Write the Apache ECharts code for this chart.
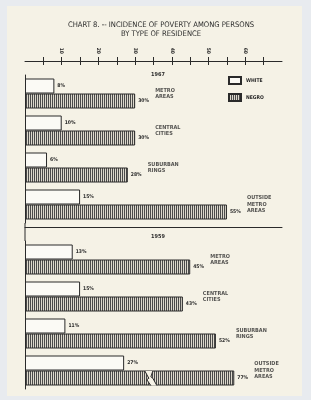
<!DOCTYPE html>
<html>
<head>
<meta charset="utf-8">
<script src="https://cdn.jsdelivr.net/npm/echarts@6/dist/echarts.min.js"></script>
<style>
  html, body { margin: 0; padding: 0; background: #e8ebef; }
  #chart { width: 311px; height: 400px; }
</style>
</head>
<body>
<div id="chart"></div>
<script>
// data (percent in poverty)
var categories = ['METRO\nAREAS', 'CENTRAL\nCITIES', 'SUBURBAN\nRINGS', 'OUTSIDE\nMETRO\nAREAS'];
var years = ['1967', '1959'];
var white1967 = [8, 10, 6, 15];
var negro1967 = [30, 30, 28, 55];
var white1959 = [13, 15, 11, 27];
var negro1959 = [45, 43, 52, 77];
var tickValues = [5, 10, 15, 20, 25, 30, 35, 40, 45, 50, 55, 60, 65];
var labelValues = [10, 20, 30, 40, 50, 60];
var axisMax = 70;
var breakCut = 20;   // how much of a too long bar is left out at the break
var breakAt = 34;    // where the break sits on the axis

var ink = '#2a2a2a';
var paper = '#f5f2e6';
var font = "'Liberation Sans Narrow', 'DejaVu Sans Condensed', 'Liberation Sans', sans-serif";

var plotLeft = 25, plotRight = 29;
var grid1Top = 75, grid2Top = 241, gridH = 148;

// vertical stripes for the negro bars
var hatch = document.createElement('canvas');
hatch.width = 2; hatch.height = 4;
var hctx = hatch.getContext('2d');
hctx.fillStyle = '#dcd8cc'; hctx.fillRect(0, 0, 2, 4);
hctx.fillStyle = '#4a4a4a'; hctx.fillRect(0, 0, 1, 4);

var whiteStyle = { color: '#fbfaf5', borderColor: ink, borderWidth: 1 };
var negroStyle = { color: { image: hatch, repeat: 'repeat' }, borderColor: ink, borderWidth: 1 };
var valueLabel = {
    show: true, position: 'right', distance: 3,
    formatter: '{c}%', fontSize: 5, fontWeight: 'bold', color: ink, fontFamily: font
};

function shown(arr) {
    return arr.map(function (v) {
        return v > axisMax ? { value: v - breakCut, label: { formatter: v + '%' } } : v;
    });
}
function labelPoints(w, n) {
    return categories.map(function (c, i) {
        var a = n[i] > axisMax ? n[i] - breakCut : n[i];
        return [Math.max(a, w[i]), i];
    });
}

function barSeries(name, data, gi, style) {
    return {
        name: name, type: 'bar', xAxisIndex: gi === 0 ? 0 : 3, yAxisIndex: gi,
        data: data, barWidth: 15, barGap: '0%', itemStyle: style, label: valueLabel,
        emphasis: { disabled: true }, animation: false
    };
}
function catSeries(gi, pts) {
    return {
        type: 'scatter', xAxisIndex: gi === 0 ? 0 : 3, yAxisIndex: gi,
        data: pts, symbolSize: 0, silent: true, animation: false,
        label: {
            show: true, position: 'right', distance: 20,
            formatter: function (p) { return categories[p.dataIndex]; },
            fontSize: 5.5, lineHeight: 6.5, fontWeight: 'bold', color: ink, fontFamily: font
        }
    };
}

var breakPts = [];
negro1959.forEach(function (v, i) { if (v > axisMax) breakPts.push([breakAt, i]); });

var option = {
    backgroundColor: '#e8ebef',
    graphic: [
        { type: 'rect', shape: { x: 7, y: 6, width: 295, height: 390 }, style: { fill: paper }, z: -10 },
        { type: 'line', shape: { x1: plotLeft, y1: grid1Top + gridH, x2: plotLeft, y2: grid2Top },
          style: { stroke: ink, lineWidth: 1 } }
    ],
    title: [
        { text: 'CHART 8. -- INCIDENCE OF POVERTY AMONG PERSONS\nBY TYPE OF RESIDENCE',
          left: 156, top: 15, textAlign: 'center',
          textStyle: { fontSize: 7.6, lineHeight: 9.5, fontWeight: 'normal', color: ink, fontFamily: font } },
        { text: years[0], left: 153, top: 67, textAlign: 'center',
          textStyle: { fontSize: 5.5, fontWeight: 'bold', color: ink, fontFamily: font } },
        { text: years[1], left: 153, top: 229, textAlign: 'center',
          textStyle: { fontSize: 5.5, fontWeight: 'bold', color: ink, fontFamily: font } }
    ],
    legend: {
        data: ['WHITE', 'NEGRO'], orient: 'vertical', left: 223, top: 71,
        itemWidth: 12, itemHeight: 7, itemGap: 8, icon: 'rect', selectedMode: false,
        textStyle: { fontSize: 5, fontWeight: 'bold', color: ink, fontFamily: font }
    },
    grid: [
        { left: plotLeft, right: plotRight, top: grid1Top, height: gridH },
        { left: plotLeft, right: plotRight, top: grid2Top, height: gridH }
    ],
    xAxis: [
        { gridIndex: 0, type: 'value', position: 'top', offset: grid1Top - 61, min: 0, max: axisMax,
          splitLine: { show: false },
          axisLine: { show: true, lineStyle: { color: ink, width: 1 } },
          axisTick: { show: true, customValues: tickValues, length: 4, lineStyle: { color: ink } },
          axisLabel: { show: true, customValues: labelValues, rotate: 90, margin: 7,
                       fontSize: 5, fontWeight: 'bold', color: ink, fontFamily: font } },
        { gridIndex: 0, type: 'value', position: 'top', offset: grid1Top - 61, min: 0, max: axisMax,
          splitLine: { show: false }, axisLine: { show: false }, axisLabel: { show: false },
          axisTick: { show: true, inside: true, customValues: tickValues, length: 4, lineStyle: { color: ink } } },
        { gridIndex: 0, type: 'value', position: 'bottom', offset: 4, min: 0, max: axisMax,
          splitLine: { show: false }, axisLabel: { show: false }, axisTick: { show: false },
          axisLine: { show: true, lineStyle: { color: ink, width: 1 } } },
        { gridIndex: 1, type: 'value', min: 0, max: axisMax, show: false }
    ],
    yAxis: [
        { gridIndex: 0, type: 'category', data: categories, inverse: true,
          axisLine: { show: true, lineStyle: { color: ink } }, axisTick: { show: false }, axisLabel: { show: false } },
        { gridIndex: 1, type: 'category', data: categories, inverse: true,
          axisLine: { show: true, lineStyle: { color: ink } }, axisTick: { show: false }, axisLabel: { show: false } }
    ],
    series: [
        barSeries('WHITE', white1967, 0, whiteStyle),
        barSeries('NEGRO', negro1967, 0, negroStyle),
        barSeries('WHITE', white1959, 1, whiteStyle),
        barSeries('NEGRO', shown(negro1959), 1, negroStyle),
        catSeries(0, labelPoints(white1967, negro1967)),
        catSeries(1, labelPoints(white1959, negro1959)),
        {
            type: 'custom', xAxisIndex: 3, yAxisIndex: 1, data: breakPts, silent: true, animation: false, z: 5,
            renderItem: function (params, api) {
                var p = api.coord([api.value(0), api.value(1)]);
                var x = p[0], t = p[1] + 0.5, b = p[1] + 15, m = (t + b) / 2;
                var L = [[x - 5, t], [x - 1, m], [x - 3, m + 1.5], [x + 1, b]];
                var R = [[x + 3, t], [x + 1, m - 1.5], [x + 3, m], [x + 7, b]];
                return {
                    type: 'group',
                    children: [
                        { type: 'polygon', shape: { points: L.concat(R.slice().reverse()) },
                          style: { fill: paper, stroke: null } },
                        { type: 'polyline', shape: { points: L }, style: { stroke: ink, lineWidth: 1, fill: null } },
                        { type: 'polyline', shape: { points: R }, style: { stroke: ink, lineWidth: 1, fill: null } }
                    ]
                };
            }
        }
    ]
};

echarts.init(document.getElementById('chart')).setOption(option);
</script>
</body>
</html>
